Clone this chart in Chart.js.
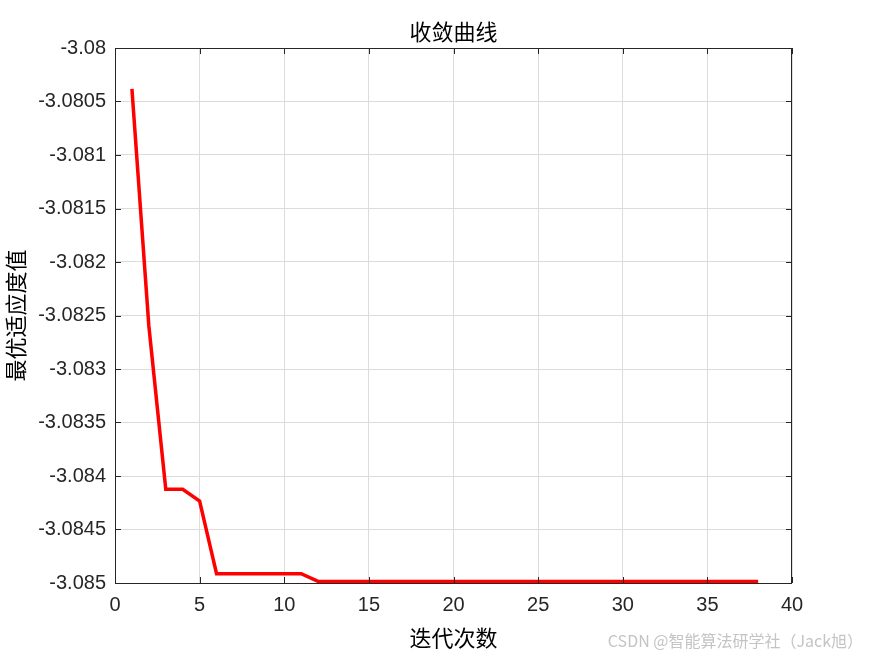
<!DOCTYPE html>
<html>
<head>
<meta charset="utf-8">
<script src="https://cdn.jsdelivr.net/npm/chart.js@4/dist/chart.umd.min.js"></script>
<style>
  html, body { margin: 0; padding: 0; background: #fff; }
  #wrap { width: 875px; height: 656px; position: relative; }
</style>
</head>
<body>
<div id="wrap"><canvas id="curve"></canvas></div>
<script>
// Iteration numbers and best fitness per iteration
const iterations = [1, 2, 3, 4, 5, 6, 7, 8, 9, 10, 11, 12, 13, 14, 15, 16, 17, 18, 19,
  20, 21, 22, 23, 24, 25, 26, 27, 28, 29, 30, 31, 32, 33, 34, 35, 36, 37, 38];
const bestFitness = [-3.080383, -3.082598, -3.084124, -3.084124, -3.084234,
  -3.084913, -3.084913, -3.084913, -3.084913, -3.084913, -3.084913,
  -3.084985, -3.084985, -3.084985, -3.084985, -3.084985, -3.084985, -3.084985,
  -3.084985, -3.084985, -3.084985, -3.084985, -3.084985, -3.084985, -3.084985,
  -3.084985, -3.084985, -3.084985, -3.084985, -3.084985, -3.084985, -3.084985,
  -3.084985, -3.084985, -3.084985, -3.084985, -3.084985, -3.084985];
const xTicks = [0, 5, 10, 15, 20, 25, 30, 35, 40];
const yTicks = [-3.085, -3.0845, -3.084, -3.0835, -3.083, -3.0825, -3.082, -3.0815, -3.081, -3.0805, -3.08];

const chartTitle = '收敛曲线';
const xTitle = '迭代次数';
const yTitle = '最优适应度值';
const watermark = 'CSDN @智能算法研学社（Jack旭）';

const cjk = '"Noto Sans CJK SC", sans-serif';
const latin = '"Liberation Sans", Arial, sans-serif';

// box around plot area, inward ticks, title and watermark
const decorations = {
  id: 'decorations',
  afterDraw(chart) {
    const { ctx, chartArea: a, scales } = chart;
    ctx.save();
    ctx.strokeStyle = '#262626';
    ctx.lineWidth = 1;
    ctx.strokeRect(a.left + 0.5, a.top + 0.5, a.right - a.left - 1, a.bottom - a.top);
    ctx.beginPath();
    xTicks.forEach(v => {
      const px = Math.round(scales.x.getPixelForValue(v)) + 0.5;
      ctx.moveTo(px, a.bottom); ctx.lineTo(px, a.bottom - 6);
      ctx.moveTo(px, a.top); ctx.lineTo(px, a.top + 6);
    });
    yTicks.forEach(v => {
      const py = Math.round(scales.y.getPixelForValue(v)) + 0.5;
      ctx.moveTo(a.left, py); ctx.lineTo(a.left + 6, py);
      ctx.moveTo(a.right, py); ctx.lineTo(a.right - 6, py);
    });
    ctx.stroke();

    ctx.fillStyle = '#000';
    ctx.font = '22px ' + cjk;
    ctx.textAlign = 'center';
    ctx.textBaseline = 'middle';
    ctx.fillText(chartTitle, (a.left + a.right) / 2, 32);

    ctx.fillStyle = '#c4c4c4';
    ctx.font = '16px ' + cjk;
    ctx.textAlign = 'right';
    ctx.fillText(watermark, 863, 641);
    ctx.restore();
  }
};

const ctx = document.getElementById('curve').getContext('2d');
new Chart(ctx, {
  type: 'line',
  data: {
    datasets: [{
      label: yTitle,
      data: iterations.map((it, i) => ({ x: it, y: bestFitness[i] })),
      borderColor: '#ff0000',
      borderWidth: 3.5,
      pointRadius: 0,
      tension: 0,
      fill: false
    }]
  },
  options: {
    responsive: true,
    maintainAspectRatio: false,
    animation: false,
    layout: { padding: { top: 48, right: 83, left: 0, bottom: 0 } },
    plugins: {
      legend: { display: false },
      tooltip: { enabled: false }
    },
    scales: {
      x: {
        type: 'linear',
        min: 0,
        max: 40,
        afterBuildTicks: s => { s.ticks = xTicks.map(v => ({ value: v })); },
        afterFit: s => { s.height = 73; },
        border: { display: false },
        grid: { color: '#dcdcdc', drawTicks: false },
        ticks: {
          padding: 10,
          color: '#262626',
          font: { family: latin, size: 20 }
        },
        title: {
          display: true,
          text: xTitle,
          color: '#000',
          padding: { top: 0, bottom: 5 },
          font: { family: cjk, size: 22 }
        }
      },
      y: {
        type: 'linear',
        min: -3.085,
        max: -3.08,
        afterBuildTicks: s => { s.ticks = yTicks.map(v => ({ value: v })); },
        afterFit: s => { s.width = 115; },
        border: { display: false },
        grid: { color: '#dcdcdc', drawTicks: false },
        ticks: {
          padding: 9,
          color: '#262626',
          font: { family: latin, size: 20 },
          callback: v => String(+v.toFixed(4))
        },
        title: {
          display: true,
          text: yTitle,
          color: '#000',
          padding: { top: 2, bottom: 0 },
          font: { family: cjk, size: 22 }
        }
      }
    }
  },
  plugins: [decorations]
});
</script>
</body>
</html>
